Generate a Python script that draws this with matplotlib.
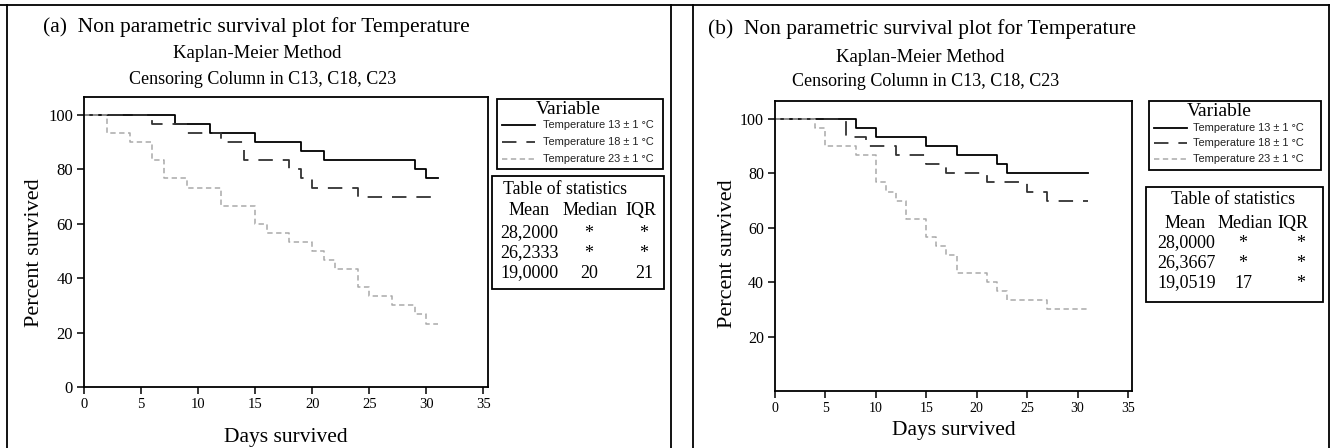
import matplotlib
matplotlib.use("Agg")
import matplotlib.pyplot as plt
from matplotlib.lines import Line2D
from matplotlib.patches import Rectangle

# ---------------- data ----------------
series_labels = ["Temperature 13 \u00b1 1 \u00b0C", "Temperature 18 \u00b1 1 \u00b0C", "Temperature 23 \u00b1 1 \u00b0C"]

a13_t = [0, 8, 11, 15, 19, 21, 29, 30, 31]
a13_s = [100, 96.67, 93.33, 90, 86.67, 83.33, 80, 76.67, 76.67]
a18_t = [0, 6, 9, 12, 14, 18, 19, 20, 24, 31]
a18_s = [100, 96.67, 93.33, 90, 83.33, 80, 76.67, 73.33, 70, 70]
a23_t = [0, 2, 4, 6, 7, 9, 12, 15, 16, 18, 20, 21, 22, 24, 25, 27, 29, 30, 31]
a23_s = [100, 93.33, 90, 83.33, 76.67, 73.33, 66.67, 60, 56.67, 53.33, 50, 46.67,
         43.33, 36.67, 33.33, 30, 26.67, 23.33, 23.33]

b13_t = [0, 8, 10, 15, 18, 22, 23, 31]
b13_s = [100, 96.67, 93.33, 90, 86.67, 83.33, 80, 80]
b18_t = [0, 7, 9, 12, 15, 17, 21, 25, 27, 31]
b18_s = [100, 93.33, 90, 86.67, 83.33, 80, 76.67, 73.33, 70, 70]
b23_t = [0, 4, 5, 8, 10, 11, 12, 13, 15, 16, 17, 18, 21, 22, 23, 27, 31]
b23_s = [100, 96.67, 90, 86.67, 76.67, 73.33, 70, 63.33, 56.67, 53.33, 50, 43.33,
         40, 36.67, 33.33, 30, 30]

stats_header = ["Mean", "Median", "IQR"]
stats_a = [["28,2000", "*", "*"], ["26,2333", "*", "*"], ["19,0000", "20", "21"]]
stats_b = [["28,0000", "*", "*"], ["26,3667", "*", "*"], ["19,0519", "17", "*"]]

x_ticks = [0, 5, 10, 15, 20, 25, 30, 35]
y_ticks_a = [0, 20, 40, 60, 80, 100]
y_ticks_b = [20, 40, 60, 80, 100]

title_main_a = "(a)  Non parametric survival plot for Temperature"
title_main_b = "(b)  Non parametric survival plot for Temperature"
subtitle_1 = "Kaplan-Meier Method"
subtitle_2 = "Censoring Column in C13, C18, C23"

# ---------------- styles ----------------
W, H = 1330, 448
SERIF = ["Liberation Serif", "DejaVu Serif"]
SANS = ["Liberation Sans", "DejaVu Sans"]
styles = [
    dict(color="black", lw=1.3, ls="-"),
    dict(color="#333333", lw=1.3, ls=(0, (8, 5.5))),
    dict(color="#aaaaaa", lw=1.1, ls=(0, (3.5, 2.3))),
]

fig = plt.figure(figsize=(W / 100, H / 100), dpi=100)
fig.patch.set_facecolor("white")


def fx(x):
    return x / W


def fy(y):
    return 1 - y / H


def frect(x0, y0, x1, y1, lw=1.3):
    fig.patches.append(Rectangle((fx(x0), fy(y1)), fx(x1) - fx(x0), fy(y0) - fy(y1),
                                 transform=fig.transFigure, fill=False,
                                 edgecolor="black", lw=lw))


def fline(xs, ys, **kw):
    fig.add_artist(Line2D([fx(v) for v in xs], [fy(v) for v in ys],
                          transform=fig.transFigure, **kw))


def ftext(x, y, s, size, family=SERIF, ha="center", **kw):
    fig.text(fx(x), fy(y), s, family=family, fontsize=size, ha=ha, va="center", **kw)


# outer frames
fline([0, W], [5, 5], color="black", lw=1.3)
fline([7, 7], [5, H], color="black", lw=1.3)
fline([671, 671], [5, H], color="black", lw=1.3)
fline([693, 693], [5, H], color="black", lw=1.3)
fline([1328.5, 1328.5], [5, H], color="black", lw=1.3)


def panel(box, curves, yticks, L):
    x0, y0, x1, y1 = box
    ax = fig.add_axes([fx(x0), fy(y1), fx(x1) - fx(x0), fy(y0) - fy(y1)])
    for (t, s), st in zip(curves, styles):
        ax.step(t, s, where="post", **st)
    ax.set_xlim(0, 35.4)
    ax.set_ylim(0, 106.6)
    ax.set_xticks(x_ticks)
    ax.set_yticks(yticks)
    ax.tick_params(direction="out", length=5, width=1.1, pad=3)
    ax.tick_params(axis="x", labelsize=L["xts"])
    ax.tick_params(axis="y", labelsize=L["yts"])
    for lab in ax.get_xticklabels() + ax.get_yticklabels():
        lab.set_fontfamily(SERIF)
    for sp in ax.spines.values():
        sp.set_linewidth(1.3)
    ftext((x0 + x1) / 2, L["xlab_y"], "Days survived", 15.5)
    ftext(L["ylab_x"], L["ylab_y"], "Percent survived", 16, rotation=90)
    # titles
    ftext(L["t_x"], L["t_y"], L["title"], L["t_fs"], ha="left")
    ftext(L["s1"][0], L["s1"][1], subtitle_1, 13.5)
    ftext(L["s2"][0], L["s2"][1], subtitle_2, 13)
    # legend box
    lx0, ly0, lx1, ly1 = L["leg"]
    frect(lx0, ly0, lx1, ly1)
    ftext(L["var_x"], ly0 + 11, "Variable", 14)
    for yy, lab, st in zip(L["leg_y"], series_labels, styles):
        fline([lx0 + 5, lx0 + 38], [yy, yy], **st)
        ftext(lx0 + L["leg_tx"], yy, lab, 7.9, family=SANS, ha="left", color="#222222")
    # stats box
    bx0, by0, bx1, by1 = L["stat"]
    frect(bx0, by0, bx1, by1)
    ftext(L["tos_x"], by0 + 13, "Table of statistics", 12.8)
    for c, h in zip(L["hdr_x"], stats_header):
        ftext(c, by0 + L["hdr_dy"], h, 13)
    for yy, row in zip(L["row_y"], L["stats"]):
        ftext(bx0 + L["val_dx"], yy, row[0], 13, ha="left")
        ftext(L["med_x"], yy, row[1], 13)
        ftext(L["iqr_x"], yy, row[2], 13)
    return ax


layout_a = dict(
    xts=10.5, yts=12, xlab_y=437, ylab_x=35, ylab_y=253,
    title=title_main_a, t_x=43, t_y=27, t_fs=15.5,
    s1=(257, 54), s2=(263, 79),
    leg=(497, 99, 663, 169), var_x=568, leg_y=[125, 142, 159], leg_tx=46,
    stat=(492, 176, 664, 289), tos_x=565, hdr_x=[529, 590, 641], hdr_dy=34,
    row_y=[233, 253, 273], val_dx=8, med_x=589, iqr_x=644, stats=stats_a,
)
layout_b = dict(
    xts=10, yts=11.5, xlab_y=430, ylab_x=728, ylab_y=254,
    title=title_main_b, t_x=708, t_y=29, t_fs=15.5,
    s1=(920, 57), s2=(926, 81),
    leg=(1149, 101, 1321, 170), var_x=1219, leg_y=[128, 143, 159], leg_tx=44,
    stat=(1146, 187, 1323, 302), tos_x=1233, hdr_x=[1185, 1245, 1293], hdr_dy=36,
    row_y=[243, 263, 283], val_dx=11, med_x=1243, iqr_x=1301, stats=stats_b,
)

panel((84, 97, 488, 387),
      [(a13_t, a13_s), (a18_t, a18_s), (a23_t, a23_s)], y_ticks_a, layout_a)
panel((775, 101, 1132, 391),
      [(b13_t, b13_s), (b18_t, b18_s), (b23_t, b23_s)], y_ticks_b, layout_b)

fig.savefig("out.png", dpi=100)
